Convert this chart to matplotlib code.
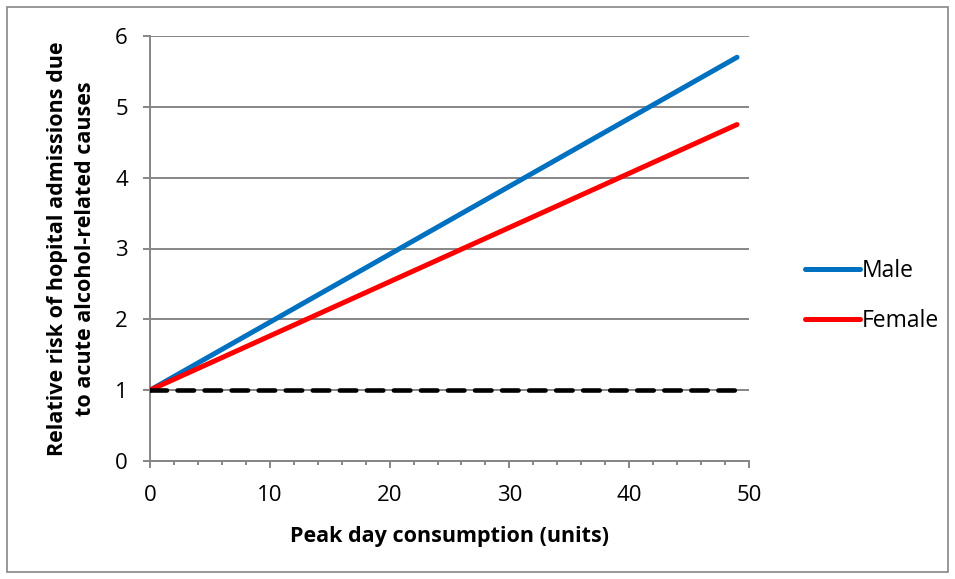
import matplotlib.pyplot as plt
from matplotlib.patches import Rectangle
from matplotlib.ticker import MultipleLocator

plt.rcParams['font.family'] = ['Open Sans', 'DejaVu Sans']

# peak day units and relative risk
units = [0, 49]
male_risk = [1.0, 5.7]
female_risk = [1.0, 4.75]
baseline = [1.0, 1.0]

grey = '#868686'

fig = plt.figure(figsize=(9.55, 5.79), dpi=100)
ax = fig.add_axes([150 / 955, 1 - 461 / 579, 599 / 955, 425 / 579])

ax.plot(units, male_risk, color='#0070C0', lw=3.6, solid_capstyle='round', label='Male', zorder=3)
ax.plot(units, female_risk, color='#FF0000', lw=3.6, solid_capstyle='round', label='Female', zorder=3)
ax.plot(units, baseline, color='black', lw=3.3, dashes=(3.6, 2.3), dash_capstyle='round', zorder=4)

ax.set_xlim(0, 50)
ax.set_ylim(0, 6)
ax.xaxis.set_major_locator(MultipleLocator(10))
ax.xaxis.set_minor_locator(MultipleLocator(2))
ax.yaxis.set_major_locator(MultipleLocator(1))
ax.yaxis.grid(True, color=grey, lw=1.4)
ax.set_axisbelow(True)

for side in ['top', 'right']:
    ax.spines[side].set_visible(False)
for side in ['left', 'bottom']:
    ax.spines[side].set_color(grey)
    ax.spines[side].set_linewidth(1.4)

ax.tick_params(axis='both', which='major', length=5, width=1.4, color=grey,
               labelsize=16, labelcolor='black')
ax.tick_params(axis='x', which='major', pad=12)
ax.tick_params(axis='x', which='minor', length=3, width=1.4, color=grey)
ax.tick_params(axis='y', which='major', pad=11)

ax.set_xlabel('Peak day consumption (units)', fontsize=15.5, fontweight='bold', labelpad=15)
ax.set_ylabel('Relative risk of hopital admissions due\nto acute alcohol-related causes',
              fontsize=15.5, fontweight='bold', labelpad=14, linespacing=1.4)

fig.legend(loc='center left', bbox_to_anchor=(784 / 955, 1 - 296 / 579), frameon=False,
           fontsize=16.5, handlelength=2.4, handletextpad=0.1, labelspacing=1.1)

fig.patches.append(Rectangle((7 / 955, 7 / 579), 941 / 955, 565 / 579, transform=fig.transFigure,
                             fill=False, edgecolor=grey, lw=1.2))

fig.savefig('out.png', dpi=100)
